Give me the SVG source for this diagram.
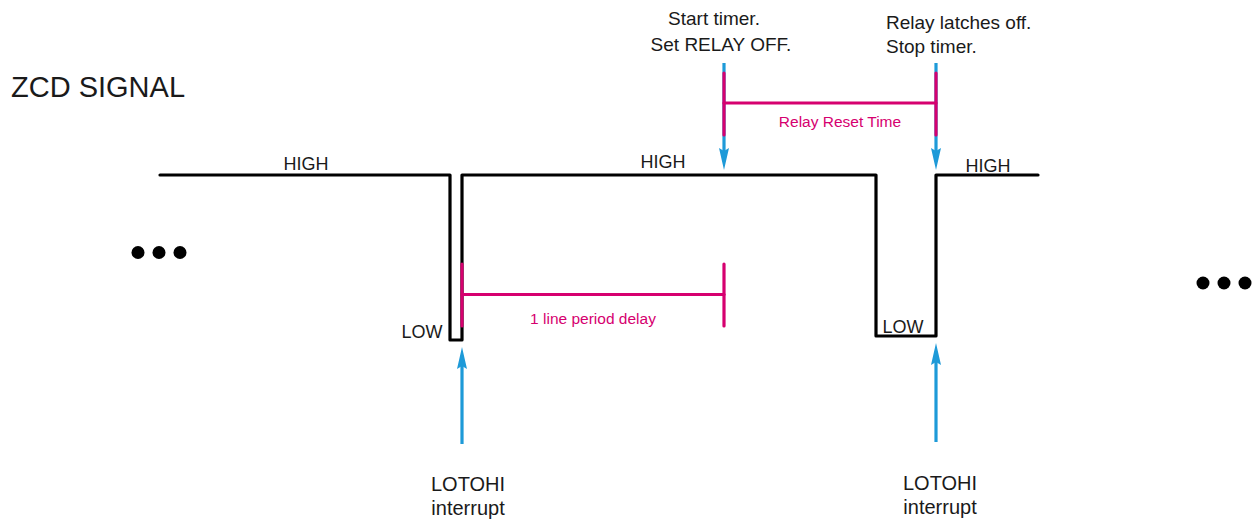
<svg xmlns="http://www.w3.org/2000/svg" width="1253" height="521" viewBox="0 0 1253 521">
<style>
  .txt { font-family: "Liberation Sans", Arial, sans-serif; fill: #1a1a1a; }
  .lbl { font-size: 18px; }
  .note { font-size: 19px; }
  .intr { font-size: 20px; }
  .mag { font-family: "Liberation Sans", Arial, sans-serif; fill: #d6006f; font-size: 15.5px; }
  .sig { fill: none; stroke: #000; stroke-width: 3.2; stroke-linejoin: round; stroke-linecap: round; }
  .blue { fill: none; stroke: #1e9ad8; stroke-width: 3.2; }
  .mline { fill: none; stroke: #d6006f; stroke-width: 3.2; stroke-linecap: round; }
  .dot { fill: #000; }
</style>
<defs>
  <marker id="ah" markerUnits="userSpaceOnUse" markerWidth="24" markerHeight="12" refX="12" refY="5" orient="auto">
    <path d="M0,0 L22,5 L0,10 L3,5 z" fill="#1e9ad8"/>
  </marker>
</defs>
<rect width="1253" height="521" fill="#fff"/>

<g id="title">
  <text class="txt" x="11" y="97" font-size="29">ZCD SIGNAL</text>
</g>

<g id="signal">
  <path class="sig" d="M160,175 H450 V340 H462 V175 H876 V336 H936 V175 H1038"/>
  <text class="txt lbl" x="306" y="170" text-anchor="middle">HIGH</text>
  <text class="txt lbl" x="663" y="168" text-anchor="middle">HIGH</text>
  <text class="txt lbl" x="988" y="172" text-anchor="middle">HIGH</text>
  <text class="txt lbl" x="422" y="338" text-anchor="middle">LOW</text>
  <text class="txt lbl" x="903" y="333" text-anchor="middle">LOW</text>
</g>

<g id="dots-left">
  <circle class="dot" cx="138" cy="252.5" r="6.5"/>
  <circle class="dot" cx="159" cy="252.5" r="6.5"/>
  <circle class="dot" cx="180" cy="252.5" r="6.5"/>
</g>
<g id="dots-right">
  <circle class="dot" cx="1203" cy="283" r="6.5"/>
  <circle class="dot" cx="1224" cy="283" r="6.5"/>
  <circle class="dot" cx="1245" cy="283" r="6.5"/>
</g>

<g id="connectors">
  <line class="blue" x1="724" y1="63" x2="724" y2="160" marker-end="url(#ah)"/>
  <line class="blue" x1="936" y1="63" x2="936" y2="160" marker-end="url(#ah)"/>
  <line class="blue" x1="462" y1="444" x2="462" y2="357" marker-end="url(#ah)"/>
  <line class="blue" x1="936" y1="442" x2="936" y2="353" marker-end="url(#ah)"/>
</g>

<g id="relay-reset-time">
  <line class="mline" x1="724" y1="73" x2="724" y2="135"/>
  <line class="mline" x1="936" y1="73" x2="936" y2="135"/>
  <line class="mline" x1="724" y1="103" x2="936" y2="103"/>
  <text class="mag" x="840" y="127" text-anchor="middle">Relay Reset Time</text>
</g>

<g id="line-period-delay">
  <line class="mline" x1="462" y1="264" x2="462" y2="326"/>
  <line class="mline" x1="724" y1="264" x2="724" y2="326"/>
  <line class="mline" x1="462" y1="294.5" x2="724" y2="294.5"/>
  <text class="mag" x="593" y="324" text-anchor="middle">1 line period delay</text>
</g>

<g id="note-start">
  <text class="txt note" x="714" y="25" text-anchor="middle">Start timer.</text>
  <text class="txt note" x="721" y="51" text-anchor="middle">Set RELAY OFF.</text>
</g>
<g id="note-stop">
  <text class="txt note" x="886" y="29" text-anchor="start">Relay latches off.</text>
  <text class="txt note" x="886" y="53" text-anchor="start">Stop timer.</text>
</g>
<g id="int-1">
  <text class="txt intr" x="468" y="491" text-anchor="middle">LOTOHI</text>
  <text class="txt intr" x="468" y="515" text-anchor="middle">interrupt</text>
</g>
<g id="int-2">
  <text class="txt intr" x="940" y="490" text-anchor="middle">LOTOHI</text>
  <text class="txt intr" x="940" y="514" text-anchor="middle">interrupt</text>
</g>
</svg>
